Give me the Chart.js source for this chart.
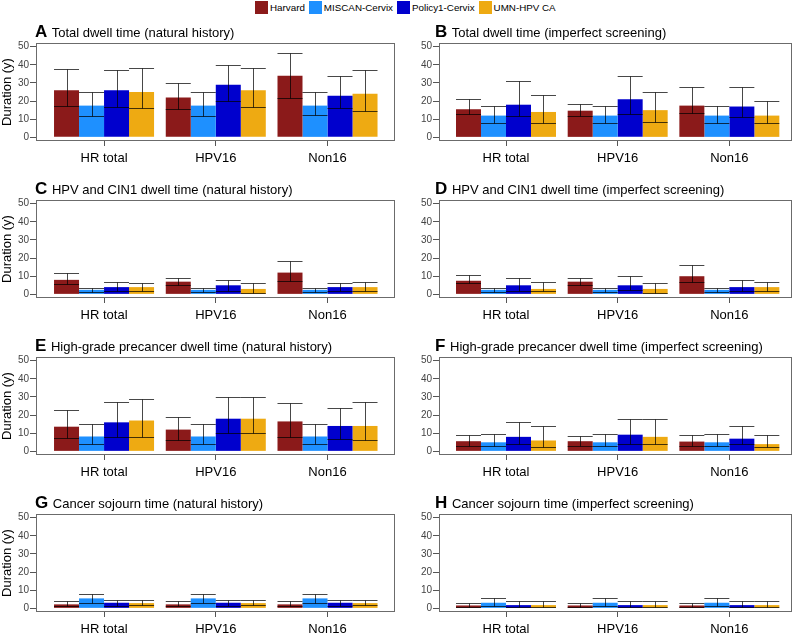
<!DOCTYPE html>
<html>
<head>
<meta charset="utf-8">
<script src="https://cdn.jsdelivr.net/npm/chart.js@4.4.0/dist/chart.umd.min.js"></script>
<style>
  body { margin: 0; background: #fff; font-family: "Liberation Sans", Arial, sans-serif; }
  #page { position: relative; width: 800px; height: 634px; overflow: hidden; }
  #page canvas { position: absolute; }
  .ttl { position: absolute; font-size: 13px; line-height: 16px; color: #000; white-space: nowrap; }
  .ttl b { font-size: 17px; margin-right: 1px; }
  #legend { position: absolute; left: 255px; top: 1px; display: flex; align-items: center; font-size: 9.8px; line-height: 13px; color: #000; }
  #legend .sw { display: inline-block; width: 13px; height: 13px; margin-right: 2px; }
  #legend .lb { margin-right: 4px; }
</style>
</head>
<body>
<div id="page"><div id="legend"></div></div>
<script>
const categories = ['HR total', 'HPV16', 'Non16'];
const models = ['Harvard', 'MISCAN-Cervix', 'Policy1-Cervix', 'UMN-HPV CA'];
const modelColors = ['#8b1a1a', '#1e90ff', '#0000cd', '#eeaa12'];
const yTicks = [0, 10, 20, 30, 40, 50];

// rows: Harvard, MISCAN-Cervix, Policy1-Cervix, UMN-HPV CA; columns: HR total, HPV16, Non16
const totalNhMean = [[26, 22, 34], [17.5, 17.5, 17.5], [26, 29, 23], [25, 26, 24]];
const totalNhLow = [[17.3, 15.7, 21.5], [12, 12, 12.3], [17, 20, 16], [16, 16.8, 14.3]];
const totalNhHigh = [[37.8, 30, 46.3], [25, 25, 25], [37, 40, 34], [38, 38, 37]];

const totalScrMean = [[15.5, 14.7, 17.5], [12, 12, 12], [18, 21, 17], [14, 15, 12]];
const totalScrLow = [[12.8, 11.8, 13.5], [8, 8, 8], [12, 13, 11], [8, 8.7, 8]];
const totalScrHigh = [[21, 18.2, 27.8], [17.5, 17.5, 17.5], [31, 34, 28], [23.3, 25, 20]];

const cin1NhMean = [[8, 7, 12], [2.5, 2.5, 2.5], [4, 5, 4], [4, 3, 4]];
const cin1NhLow = [[5.5, 5.4, 7.5], [1.5, 1.5, 1.5], [2, 2, 2], [2, 1, 2]];
const cin1NhHigh = [[12, 9, 18.6], [3.7, 3.7, 3.7], [7, 8, 6], [6, 6, 7]];

const cin1ScrMean = [[7.5, 7, 10], [2.5, 2.5, 2.5], [5, 5, 4], [3, 3, 4]];
const cin1ScrLow = [[6, 5.4, 7], [1.5, 1.5, 1.5], [2, 2.4, 2], [2, 1, 2]];
const cin1ScrHigh = [[10.5, 9, 16.3], [3.7, 3.7, 3.7], [9.2, 10, 7.8], [7, 6, 7]];

const hsilNhMean = [[13.6, 12, 16.5], [8.2, 8.2, 8.2], [16, 18, 14], [17, 18, 14]];
const hsilNhLow = [[7.1, 6.5, 8], [4.3, 4.3, 4.3], [8, 10, 7], [8, 10, 6]];
const hsilNhHigh = [[22.6, 19.2, 26.4], [15, 15, 15], [27.2, 30, 24], [29, 30, 27.2]];

const hsilScrMean = [[5.6, 5.6, 5.4], [5, 5, 5], [8, 9.2, 7], [6, 8, 4]];
const hsilScrLow = [[3.1, 3.1, 2.7], [2.7, 2.7, 2.7], [4, 4, 4], [2.2, 4, 2.2]];
const hsilScrHigh = [[9, 8.7, 9], [9.6, 9.6, 9.6], [16, 18, 14], [14, 18, 9]];

const cancerNhMean = [[2.2, 2.2, 2.2], [5.5, 5.5, 5.5], [3.1, 3.1, 3.1], [2.9, 2.9, 2.9]];
const cancerNhLow = [[1.2, 1.2, 1.2], [3.1, 3.1, 3.1], [1.5, 1.5, 1.5], [2, 2, 2]];
const cancerNhHigh = [[4.2, 4.2, 4.2], [8, 8, 8], [4.8, 4.8, 4.8], [4.8, 4.8, 4.8]];

const cancerScrMean = [[1.6, 1.6, 1.6], [3.1, 3.1, 3.1], [1.8, 1.8, 1.8], [1.8, 1.8, 1.8]];
const cancerScrLow = [[1, 1, 1], [1.5, 1.5, 1.5], [1, 1, 1], [1, 1, 1]];
const cancerScrHigh = [[2.8, 2.8, 2.8], [5.7, 5.7, 5.7], [4, 4, 4], [4, 4, 4]];

const panels = [
  { letter: 'A', title: 'Total dwell time (natural history)', mean: totalNhMean, low: totalNhLow, high: totalNhHigh },
  { letter: 'B', title: 'Total dwell time (imperfect screening)', mean: totalScrMean, low: totalScrLow, high: totalScrHigh },
  { letter: 'C', title: 'HPV and CIN1 dwell time (natural history)', mean: cin1NhMean, low: cin1NhLow, high: cin1NhHigh },
  { letter: 'D', title: 'HPV and CIN1 dwell time (imperfect screening)', mean: cin1ScrMean, low: cin1ScrLow, high: cin1ScrHigh },
  { letter: 'E', title: 'High-grade precancer dwell time (natural history)', mean: hsilNhMean, low: hsilNhLow, high: hsilNhHigh },
  { letter: 'F', title: 'High-grade precancer dwell time (imperfect screening)', mean: hsilScrMean, low: hsilScrLow, high: hsilScrHigh },
  { letter: 'G', title: 'Cancer sojourn time (natural history)', mean: cancerNhMean, low: cancerNhLow, high: cancerNhHigh },
  { letter: 'H', title: 'Cancer sojourn time (imperfect screening)', mean: cancerScrMean, low: cancerScrLow, high: cancerScrHigh }
];

const page = document.getElementById('page');

document.getElementById('legend').innerHTML = models
  .map((m, i) => `<span class="sw" style="background:${modelColors[i]}"></span><span class="lb">${m}</span>`)
  .join('');

const errorBars = {
  id: 'errorBars',
  afterDatasetsDraw(chart) {
    const { ctx } = chart;
    const y = chart.scales.y;
    ctx.save();
    ctx.strokeStyle = 'rgba(0,0,0,0.72)';
    ctx.lineWidth = 1;
    chart.data.datasets.forEach((ds, i) => {
      chart.getDatasetMeta(i).data.forEach((bar, j) => {
        const half = bar.width / 2;
        const lo = Math.round(y.getPixelForValue(ds.low[j])) + 0.5;
        const hi = Math.round(y.getPixelForValue(ds.high[j])) + 0.5;
        const x = Math.round(bar.x) + 0.5;
        ctx.beginPath();
        ctx.moveTo(bar.x - half, lo);
        ctx.lineTo(bar.x + half, lo);
        ctx.moveTo(bar.x - half, hi);
        ctx.lineTo(bar.x + half, hi);
        ctx.moveTo(x, lo);
        ctx.lineTo(x, hi);
        ctx.stroke();
      });
    });
    ctx.restore();
  }
};

const frame = {
  id: 'frame',
  afterDraw(chart) {
    const { ctx, chartArea: a } = chart;
    ctx.save();
    ctx.strokeStyle = '#6b6b6b';
    ctx.lineWidth = 1;
    ctx.strokeRect(a.left + 0.5, a.top + 0.5, a.right - a.left - 1, a.bottom - a.top - 1);
    ctx.restore();
  }
};

const boxTops = [43, 200, 357, 514];
const boxHeight = 98;
const padTop = 8;
const xAxisHeight = 28;

panels.forEach((p, k) => {
  const col = k % 2;
  const row = Math.floor(k / 2);
  const axisWidth = col === 0 ? 36 : 39;
  const padRight = col === 0 ? 5 : 8;
  const xMin = col === 0 ? 0.391 : 0.4;
  const xMax = col === 0 ? 3.604 : 3.561;

  const canvas = document.createElement('canvas');
  canvas.width = 400;
  canvas.height = padTop + boxHeight + xAxisHeight;
  canvas.style.left = `${col * 400}px`;
  canvas.style.top = `${boxTops[row] - padTop}px`;
  page.appendChild(canvas);

  const ttl = document.createElement('div');
  ttl.className = 'ttl';
  ttl.style.left = `${col === 0 ? 35 : 435}px`;
  ttl.style.top = `${boxTops[row] - 19}px`;
  ttl.innerHTML = `<b>${p.letter}</b> ${p.title}`;
  page.appendChild(ttl);

  new Chart(canvas, {
    type: 'bar',
    data: {
      datasets: models.map((m, i) => ({
        label: m,
        data: p.mean[i].map((v, j) => ({ x: j + 1, y: v })),
        low: p.low[i],
        high: p.high[i],
        backgroundColor: modelColors[i],
        borderWidth: 0,
        categoryPercentage: 100 / 111.7,
        barPercentage: 1
      }))
    },
    options: {
      responsive: false,
      animation: false,
      layout: { padding: { top: padTop, right: padRight, left: 0, bottom: 0 } },
      plugins: { legend: { display: false }, tooltip: { enabled: false } },
      scales: {
        x: {
          type: 'linear',
          bounds: 'data',
          offset: false,
          min: xMin,
          max: xMax,
          afterBuildTicks: (s) => {
            s.ticks = categories.map((c, i) => ({ value: i + 1 }));
          },
          afterFit: (s) => {
            s.height = xAxisHeight;
            s.paddingLeft = 0;
            s.paddingRight = 0;
          },
          grid: { offset: false, drawOnChartArea: false, drawTicks: true, tickLength: 5, color: '#555' },
          border: { display: false },
          ticks: {
            autoSkip: false,
            maxRotation: 0,
            padding: 5,
            color: '#000',
            font: { family: '"Liberation Sans", Arial, sans-serif', size: 13 },
            callback: (v) => categories[Math.round(v) - 1]
          }
        },
        y: {
          bounds: 'data',
          min: -2,
          max: 52,
          afterBuildTicks: (s) => {
            s.ticks = yTicks.map((v) => ({ value: v }));
          },
          afterFit: (s) => {
            s.width = axisWidth;
            s.paddingTop = 0;
            s.paddingBottom = 0;
          },
          grid: { drawOnChartArea: false, drawTicks: true, tickLength: 6, color: '#555' },
          border: { display: false },
          ticks: {
            padding: 1,
            color: '#444',
            font: { family: '"Liberation Sans", Arial, sans-serif', size: 10 }
          },
          title: {
            display: col === 0,
            text: 'Duration (y)',
            color: '#000',
            padding: { top: 0, bottom: 0 },
            font: { family: '"Liberation Sans", Arial, sans-serif', size: 13 }
          }
        }
      }
    },
    plugins: [errorBars, frame]
  });
});
</script>
</body>
</html>
